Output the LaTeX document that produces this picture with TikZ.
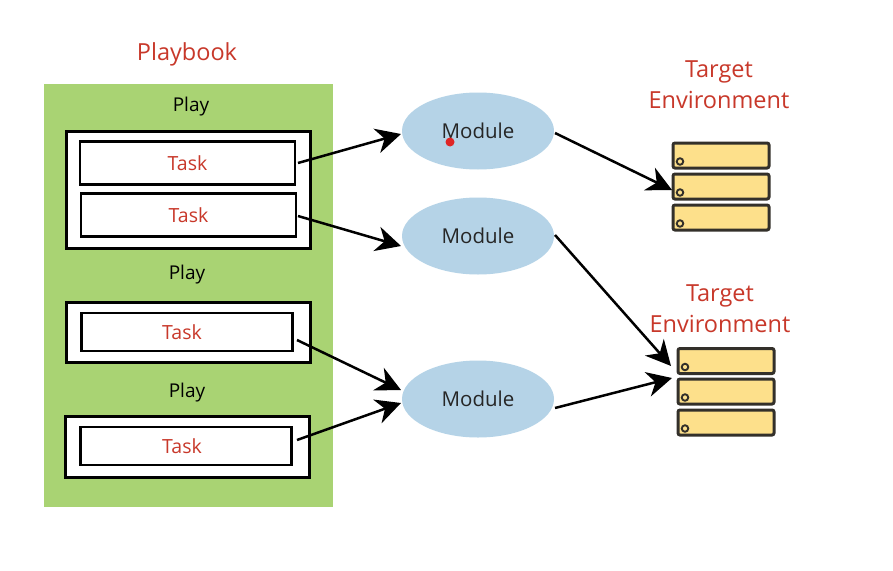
\documentclass[tikz,border=0pt]{standalone}
\usepackage{fontspec}
\setmainfont{Open Sans}
\usetikzlibrary{arrows.meta,shapes.geometric}
\definecolor{pbgreen}{HTML}{A9D373}
\definecolor{modblue}{HTML}{B5D3E7}
\definecolor{srvyellow}{HTML}{FDE08B}
\definecolor{redtxt}{HTML}{C8382A}
\definecolor{srvline}{HTML}{33302A}
\tikzset{
  playbox/.style={draw=black,line width=2.8pt,fill=white,inner sep=0pt,anchor=north west},
  taskbox/.style={draw=black,line width=2.3pt,fill=white,inner sep=0pt,text=redtxt,font=\fontsize{19.5}{22}\selectfont},
  modnode/.style={ellipse,fill=modblue,minimum width=152pt,minimum height=77pt,inner sep=0pt,font=\fontsize{20.5}{24}\selectfont,text=black!85},
  srv/.style={draw=srvline,line width=3pt,fill=srvyellow,rounded corners=2pt,minimum width=96pt,minimum height=25pt,inner sep=0pt},
  hole/.style={circle,draw=srvline,line width=1.9pt,fill=srvyellow,minimum size=6.5pt,inner sep=0pt},
  redlabel/.style={text=redtxt,font=\fontsize{23.5}{31}\selectfont,align=center},
  playlabel/.style={text=black,font=\fontsize{19}{22}\selectfont},
  link/.style={draw=black,line width=2.5pt,-{Stealth[length=25pt,width=25pt,inset=8pt]}}
}
\begin{document}
\begin{tikzpicture}[x=1pt,y=-1pt]
\useasboundingbox (0,0) rectangle (893,570);
\fill[white] (0,0) rectangle (893,570);
\node[redlabel] (pbtitle) at (187,54) {Playbook};
\fill[pbgreen] (44,84) rectangle (333,507);
\node[playlabel] (play1) at (191,106.5) {Play};
\node[playlabel] (play2) at (187,274.5) {Play};
\node[playlabel] (play3) at (187,392.5) {Play};
\node[playbox,minimum width=244pt,minimum height=117pt] (pbox1) at (65,130) {};
\node[playbox,minimum width=244pt,minimum height=60pt] (pbox2) at (65,301) {};
\node[playbox,minimum width=244pt,minimum height=61pt] (pbox3) at (64,415) {};
\node[taskbox,minimum width=215pt,minimum height=43pt] (t1) at (187.5,163) {Task};
\node[taskbox,minimum width=215pt,minimum height=43pt] (t2) at (188.5,215) {Task};
\node[taskbox,minimum width=211pt,minimum height=38pt] (t3) at (187,332) {Task\hspace*{10pt}};
\node[taskbox,minimum width=211pt,minimum height=38pt] (t4) at (186,446) {Task\hspace*{8pt}};
\node[modnode] (m1) at (478,131) {\raisebox{1.5pt}{Module}};
\node[modnode] (m2) at (478,236) {Module};
\node[modnode] (m3) at (478,399) {Module};
\fill[red!85!black!85!white] (450,142) circle (4.5pt);
\node[redlabel] (env1) at (719,85) {Target\\Environment};
\node[redlabel] (env2) at (720,309) {Target\\Environment};
\foreach \n/\x/\y in {a/721/155.5,b/721/186.5,c/721/217.5,d/726/361,e/726/391.5,f/726/422.5}{
  \node[srv] (\n) at (\x,\y) {};
  \node[hole] at ([xshift=8.5pt,yshift=-6pt]\n.west) {};
}
\coordinate (inA) at (672,190);
\coordinate (inD) at (671,366);
\coordinate (inE) at (672,378);
\coordinate (o1) at (298,163);
\coordinate (o2) at (298,216);
\coordinate (o3) at (297,340);
\coordinate (o4) at (297,440);
\coordinate (im1) at (401,134);
\coordinate (im2) at (401,246);
\coordinate (im3a) at (401,390);
\coordinate (im3b) at (401,403);
\coordinate (om1) at (555,133);
\coordinate (om2) at (555,235);
\coordinate (om3) at (555,408);
\draw[link] (o1) -- (im1);
\draw[link] (o2) -- (im2);
\draw[link] (o3) -- (im3a);
\draw[link] (o4) -- (im3b);
\draw[link] (om1) -- (inA);
\draw[link] (om2) -- (inD);
\draw[link] (om3) -- (inE);
\end{tikzpicture}
\end{document}
